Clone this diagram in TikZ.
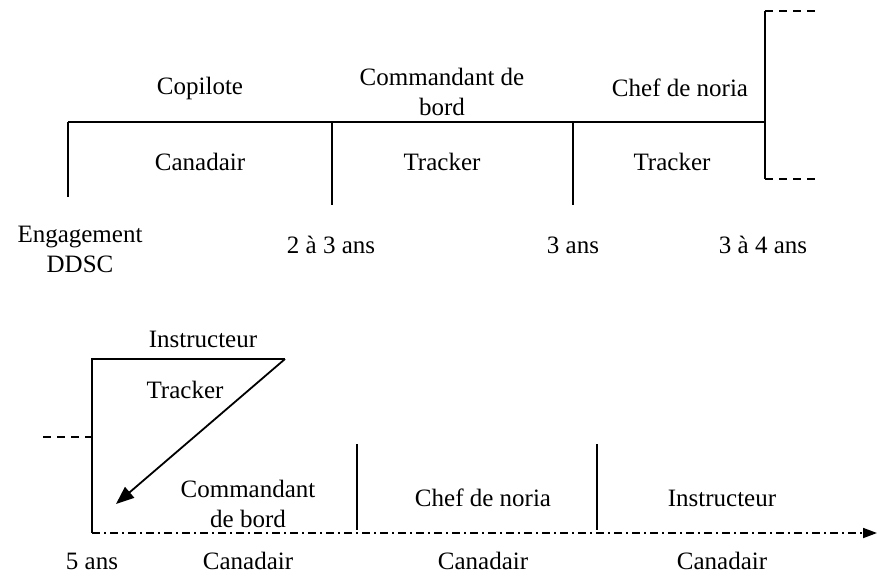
\documentclass[tikz,border=0pt]{standalone}
\usepackage{fontspec}
\setmainfont{Liberation Serif}
\usetikzlibrary{arrows.meta}
\begin{document}
\begin{tikzpicture}[x=1pt,y=-1pt,line width=2pt,
    lbl/.style={inner sep=0pt,align=center,font=\fontsize{25}{30}\selectfont},
    tickline/.style={line width=1.6pt},
    dashline/.style={line width=2pt,dash pattern=on 8pt off 6pt},
    axisline/.style={line width=1.8pt,dash pattern=on 8pt off 4pt on 2pt off 4pt,-{Triangle[length=14pt,width=10pt]}}]
    \useasboundingbox (0,0) rectangle (877,576);
    % top timeline
    \coordinate (t0) at (68,122);
    \coordinate (t1) at (332,122);
    \coordinate (t2) at (573,122);
    \coordinate (t3) at (765,122);
    \coordinate (b0) at (68,197);
    \coordinate (b1) at (332,205);
    \coordinate (b2) at (573,205);
    \coordinate (bu) at (765,11);
    \coordinate (bd) at (765,179);
    \coordinate (du) at (815,11);
    \coordinate (dd) at (815,179);
    \draw (t0) -- (t3);
    \draw [tickline] (t0) -- (b0);
    \draw [tickline] (t1) -- (b1);
    \draw [tickline] (t2) -- (b2);
    \draw (bu) -- (bd);
    \draw [dashline] (bu) -- (du);
    \draw [dashline] (bd) -- (dd);
    \node [lbl] (copi) at (200,88) {Copilote};
    \node [lbl] (cdb) at (442,92) {Commandant de\\bord};
    \node [lbl] (chef) at (680,88) {Chef de noria};
    \node [lbl] (cana) at (200,162) {Canadair};
    \node [lbl] (trk1) at (442,162) {Tracker};
    \node [lbl] (trk2) at (672,162) {Tracker};
    \node [lbl] (engag) at (80,249) {Engagement\\DDSC};
    \node [lbl] (y23) at (331,245) {2 à 3 ans};
    \node [lbl] (y3) at (573,245) {3 ans};
    \node [lbl] (y34) at (763,245) {3 à 4 ans};
    % bottom timeline
    \coordinate (s0) at (92,359);
    \coordinate (s1) at (285,359);
    \coordinate (s2) at (92,533);
    \coordinate (end) at (877,533);
    \coordinate (tip) at (116,504);
    \coordinate (dl) at (43,437);
    \coordinate (dr) at (92,437);
    \coordinate (v1) at (357,444);
    \coordinate (w1) at (357,530);
    \coordinate (v2) at (597,444);
    \coordinate (w2) at (597,530);
    \draw (s2) -- (s0) -- (s1);
    \draw [line width=1.8pt,-{Triangle[length=18pt,width=14pt]}] (s1) -- (tip);
    \draw [dashline] (dl) -- (dr);
    \draw [tickline] (v1) -- (w1);
    \draw [tickline] (v2) -- (w2);
    \draw [axisline] (s2) -- (end);
    \node [lbl] (instr) at (203,339) {Instructeur};
    \node [lbl] (trk3) at (185,390) {Tracker};
    \node [lbl] (cdb2) at (248,504) {Commandant\\de bord};
    \node [lbl] (chef2) at (483,498) {Chef de noria};
    \node [lbl] (instr2) at (722,498) {Instructeur};
    \node [lbl] (y5) at (92,561) {5 ans};
    \node [lbl] (cana2) at (248,561) {Canadair};
    \node [lbl] (cana3) at (483,561) {Canadair};
    \node [lbl] (cana4) at (722,561) {Canadair};
\end{tikzpicture}
\end{document}
